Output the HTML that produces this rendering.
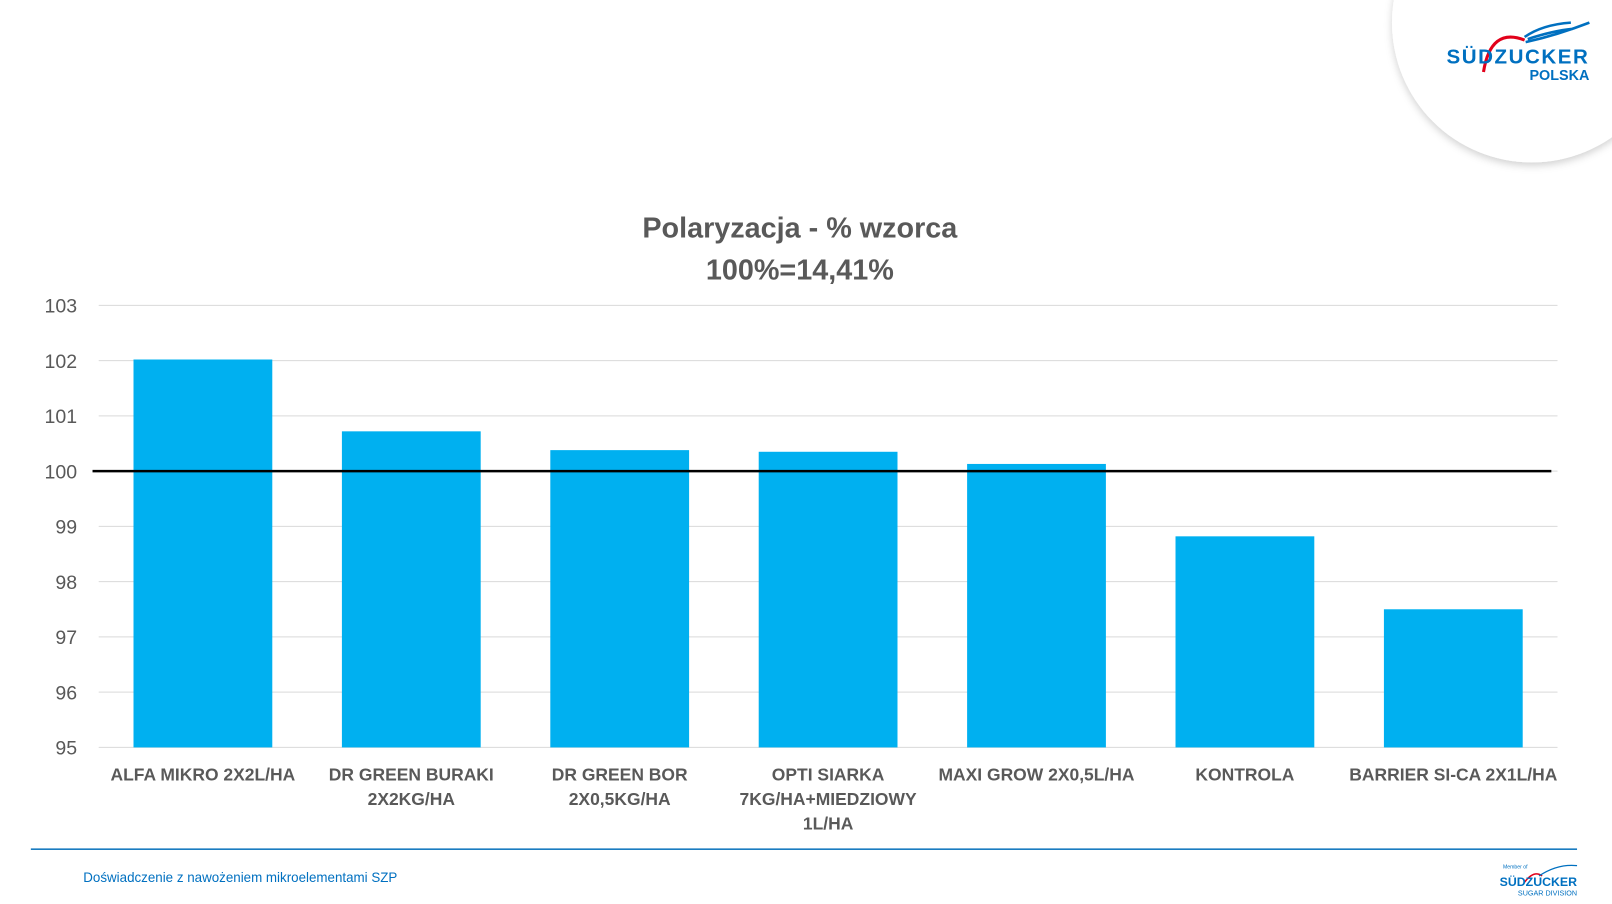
<!DOCTYPE html>
<html><head><meta charset="utf-8"><style>
body{margin:0;width:1612px;height:904px;background:#fff;overflow:hidden;position:relative;font-family:"Liberation Sans",sans-serif}
</style></head><body>
<svg width="1612" height="904" viewBox="0 0 1568 879.3" preserveAspectRatio="none" style="position:absolute;left:0;top:0">
<defs><filter id="sh" x="-20%" y="-20%" width="140%" height="140%"><feDropShadow dx="0" dy="3" stdDeviation="4" flood-color="#000" flood-opacity="0.18"/></filter></defs>
<circle cx="1490" cy="22" r="136" fill="#fff" filter="url(#sh)"/>
<g>
<path d="M1443 70 Q1450 26 1483 39" stroke="#e2001a" stroke-width="3" fill="none"/>
<path d="M1483 36 Q1500 24 1528 22 M1486 38 Q1510 30 1530 28 M1484 41 Q1515 34 1546 22" stroke="#0070c0" stroke-width="2.5" fill="none"/>
<text x="1546" y="62" text-anchor="end" font-size="20" font-weight="bold" fill="#0070c0" letter-spacing="1.5">SÜDZUCKER</text>
<text x="1546" y="78" text-anchor="end" font-size="14" font-weight="bold" fill="#0070c0">POLSKA</text>
</g>
<text x="778" y="231" text-anchor="middle" font-size="28" font-weight="bold" fill="#595959">Polaryzacja - % wzorca</text>
<text x="778" y="272" text-anchor="middle" font-size="28" font-weight="bold" fill="#595959">100%=14,41%</text>
<g id="grid"></g><g id="bars"></g><g id="labels"></g>
<line x1="30" y1="826" x2="1534" y2="826" stroke="#1a7cc0" stroke-width="1.5"/>
<text x="81" y="858" font-size="13" fill="#0070c0">Doświadczenie z nawożeniem mikroelementami SZP</text>
<g>
<text x="1462" y="845" font-size="5" fill="#0070c0">Member of</text>
<path d="M1483 858 Q1492 846 1500 852" stroke="#e2001a" stroke-width="1.5" fill="none"/>
<path d="M1497 852 Q1515 840 1534 842" stroke="#0070c0" stroke-width="1.2" fill="none"/>
<text x="1534" y="862" text-anchor="end" font-size="12" font-weight="bold" fill="#0070c0">SÜDZUCKER</text>
<text x="1534" y="871" text-anchor="end" font-size="7" fill="#0070c0">SUGAR  DIVISION</text>
</g>
</svg>
<script>
const categories=[["ALFA MIKRO 2X2L/HA"],["DR GREEN BURAKI","2X2KG/HA"],["DR GREEN BOR","2X0,5KG/HA"],["OPTI SIARKA","7KG/HA+MIEDZIOWY","1L/HA"],["MAXI GROW 2X0,5L/HA"],["KONTROLA"],["BARRIER SI-CA 2X1L/HA"]];
const values=[102.02,100.72,100.38,100.35,100.13,98.82,97.5];
const ticks=[95,96,97,98,99,100,101,102,103];
const reference=100;
const NS="http://www.w3.org/2000/svg";
const x0=96,x1=1515,yMin=95,yMax=103,py0=727,py1=297;
const y=v=>py0-(v-yMin)/(yMax-yMin)*(py0-py1);
const bw=(x1-x0)/categories.length;
function mk(t,a,p){const e=document.createElementNS(NS,t);for(const k in a)e.setAttribute(k,a[k]);document.getElementById(p).appendChild(e);return e;}
ticks.forEach(t=>{
 const l=mk('line',{x1:x0,x2:x1,y1:y(t),y2:y(t),stroke:'#d9d9d9','stroke-width':1},'grid');
 
 
 const tx=mk('text',{x:75,y:y(t)+7,'text-anchor':'end','font-size':19,fill:'#595959'},'grid');
 tx.textContent=t;
 
 
});
values.forEach((v,i)=>{
 const cx=x0+bw*(i+0.5);
 const r=mk('rect',{x:cx-67.5,y:y(v),width:135,height:y(yMin)-y(v),fill:'#00b0f0'},'bars');
 
 
 categories[i].forEach((s,j)=>{
  const tx=mk('text',{x:cx,y:759+j*24,'text-anchor':'middle','font-size':17,'font-weight':'bold',fill:'#595959'},'labels');
  tx.textContent=s;
  
  
 });
});
const rl=mk('line',{x1:90,x2:1509,y1:y(reference),y2:y(reference),stroke:'#000','stroke-width':2.5},'labels');


</script>
</body></html>
